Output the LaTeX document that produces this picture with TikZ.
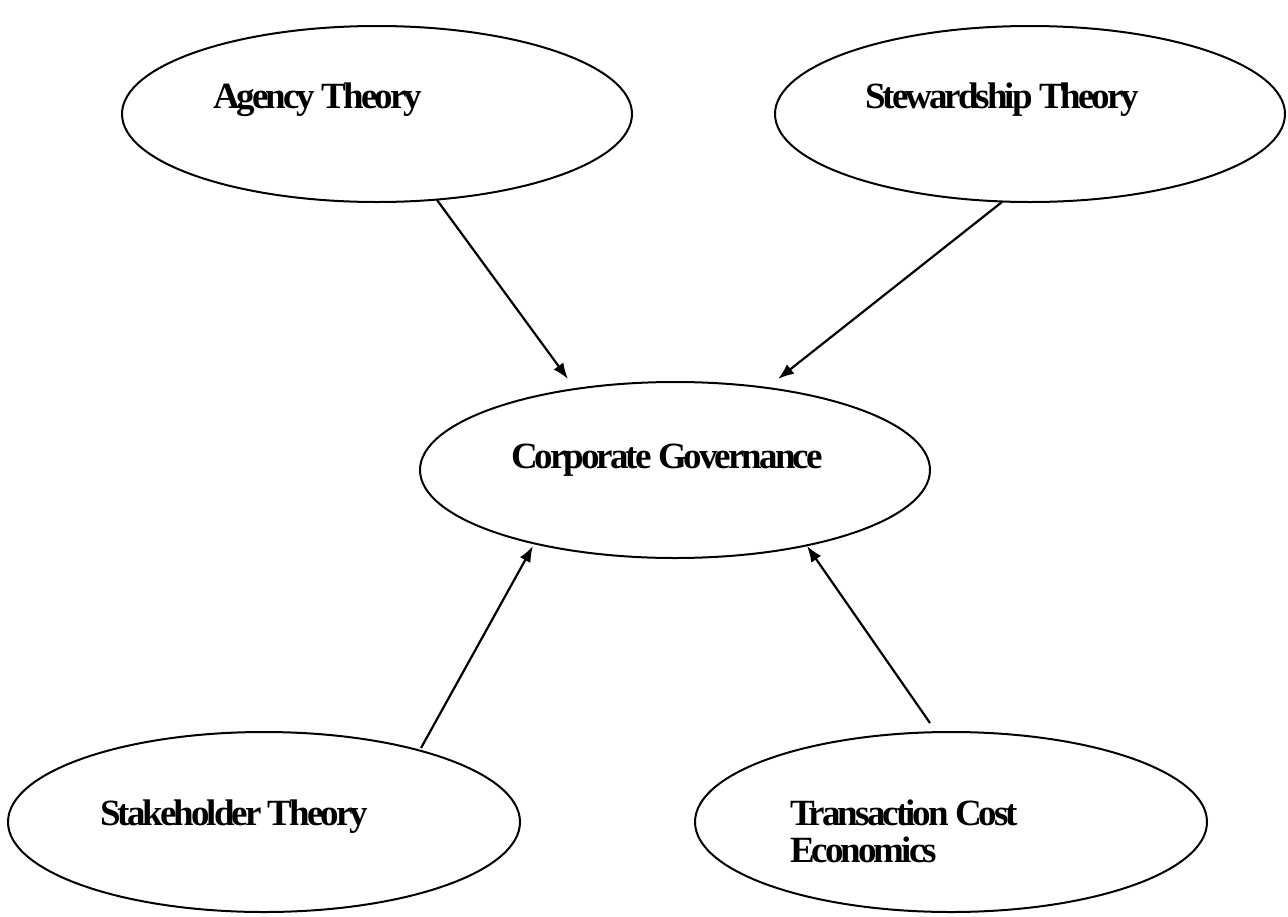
\documentclass[tikz,border=0pt]{standalone}
\usepackage{fontspec}
\setmainfont{Liberation Serif}
\newfontfamily\theoryfont[LetterSpace=-8]{Liberation Serif}
\usetikzlibrary{shapes.geometric,arrows.meta}
\tikzset{
  theory/.style={ellipse,draw,line width=2pt,inner sep=0pt,outer sep=0pt},
  theorytext/.style={anchor=base west,inner sep=0pt,outer sep=0pt,align=left,
    font=\fontsize{37}{37}\theoryfont\bfseries},
  link/.style={line width=2.2pt,-{Latex[length=16pt,width=12pt]}}
}
\begin{document}
\begin{tikzpicture}[x=1pt,y=-1pt]
\path[use as bounding box,fill=white] (0,0) rectangle (1288,916);

% ellipses
\node[theory,minimum width=510pt,minimum height=176pt] (agency) at (377,114) {};
\node[theory,minimum width=510pt,minimum height=176pt] (steward) at (1030,114) {};
\node[theory,minimum width=510pt,minimum height=176pt] (corpgov) at (675,470) {};
\node[theory,minimum width=512pt,minimum height=180pt] (stake) at (264,822) {};
\node[theory,minimum width=512pt,minimum height=180pt] (trans) at (951,822) {};

% labels
\node[theorytext] (agencytext) at (213,108) {Agency Theory};
\node[theorytext] (stewardtext) at (865,108) {Stewardship Theory};
\node[theorytext] (corpgovtext) at (511,468) {Corporate Governance};
\node[theorytext] (staketext) at (100,825) {Stakeholder Theory};
\node[theorytext] (transtext) at (790,862) {Transaction Cost\\Economics};

% arrow ends
\coordinate (agencyout) at (437,200);
\coordinate (stewardout) at (1002,202);
\coordinate (stakeout) at (421,748);
\coordinate (transout) at (930,723);
\coordinate (corpgovinA) at (568,379);
\coordinate (corpgovinB) at (778,379);
\coordinate (corpgovinC) at (533,546);
\coordinate (corpgovinD) at (807,546);

\draw[link] (agencyout) -- (corpgovinA);
\draw[link] (stewardout) -- (corpgovinB);
\draw[link] (stakeout) -- (corpgovinC);
\draw[link] (transout) -- (corpgovinD);
\end{tikzpicture}
\end{document}
